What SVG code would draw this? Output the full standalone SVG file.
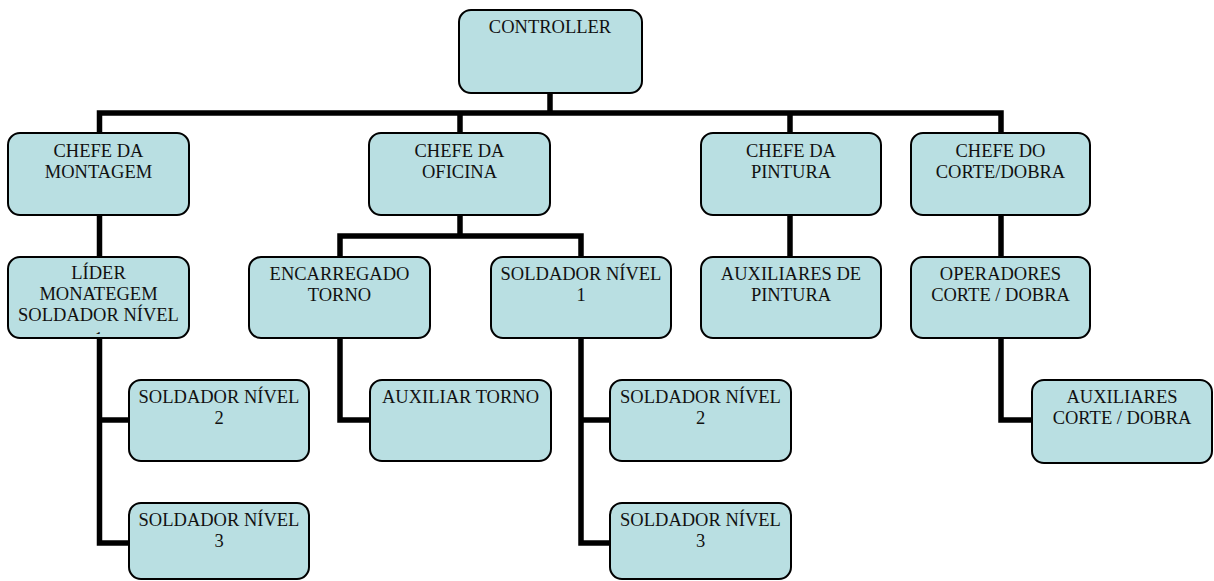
<svg xmlns="http://www.w3.org/2000/svg" width="1214" height="581" viewBox="0 0 1214 581">
  <style>
    .box { fill: #b9dfe2; stroke: #000; stroke-width: 2; }
    .lbl { font-family: 'Liberation Serif', 'DejaVu Serif', serif; font-size: 18.5px; fill: #111; text-anchor: middle; }
    .wire { fill: none; stroke: #000; stroke-width: 5.5; stroke-linejoin: miter; }
  </style>
  <defs>
    <clipPath id="clip-lider">
      <rect x="9" y="258" width="179" height="76"/>
    </clipPath>
  </defs>

  <!-- connectors -->
  <g id="connectors">
    <path class="wire" d="M550 93 V113"/>
    <path class="wire" d="M99.5 133 V113 H1001 V133"/>
    <path class="wire" d="M460 113 V133"/>
    <path class="wire" d="M790 113 V133"/>
    <!-- second level -->
    <path class="wire" d="M99.5 215 V257"/>
    <path class="wire" d="M460 215 V236"/>
    <path class="wire" d="M340 257 V236 H581 V257"/>
    <path class="wire" d="M790 215 V257"/>
    <path class="wire" d="M1001 215 V257"/>
    <!-- third level -->
    <path class="wire" d="M99.5 338 V543 H129"/>
    <path class="wire" d="M99.5 420 H129"/>
    <path class="wire" d="M340 338 V420 H370"/>
    <path class="wire" d="M581 338 V543 H610"/>
    <path class="wire" d="M581 420 H610"/>
    <path class="wire" d="M1001 338 V420 H1032"/>
  </g>

  <g id="nodes" font-family="Liberation Serif, DejaVu Serif, serif">
  <g id="controller">
    <rect class="box" x="459" y="10" width="183" height="83" rx="12"/>
    <text class="lbl" x="550" y="33">CONTROLLER</text>
  </g>

  <g id="chefe-montagem">
    <rect class="box" x="8" y="133" width="181" height="82" rx="12"/>
    <text class="lbl" x="98.5" y="157">CHEFE DA</text>
    <text class="lbl" x="98.5" y="178">MONTAGEM</text>
  </g>

  <g id="chefe-oficina">
    <rect class="box" x="369" y="133" width="181" height="82" rx="12"/>
    <text class="lbl" x="459.5" y="157">CHEFE DA</text>
    <text class="lbl" x="459.5" y="178">OFICINA</text>
  </g>

  <g id="chefe-pintura">
    <rect class="box" x="701" y="133" width="180" height="82" rx="12"/>
    <text class="lbl" x="791" y="157">CHEFE DA</text>
    <text class="lbl" x="791" y="178">PINTURA</text>
  </g>

  <g id="chefe-corte">
    <rect class="box" x="911" y="133" width="179" height="82" rx="12"/>
    <text class="lbl" x="1000.5" y="157">CHEFE DO</text>
    <text class="lbl" x="1000.5" y="178">CORTE/DOBRA</text>
  </g>

  <g id="lider-montagem">
    <rect class="box" x="8" y="257" width="181" height="81" rx="12"/>
    <g clip-path="url(#clip-lider)">
      <text class="lbl" x="98.5" y="279">LÍDER</text>
      <text class="lbl" x="98.5" y="300">MONATEGEM</text>
      <text class="lbl" x="98.5" y="321">SOLDADOR NÍVEL</text>
      <text class="lbl" x="98.5" y="345">1</text>
    </g>
  </g>

  <g id="encarregado-torno">
    <rect class="box" x="249" y="257" width="181" height="81" rx="12"/>
    <text class="lbl" x="339.5" y="280">ENCARREGADO</text>
    <text class="lbl" x="339.5" y="301">TORNO</text>
  </g>

  <g id="soldador-1">
    <rect class="box" x="491" y="257" width="180" height="81" rx="12"/>
    <text class="lbl" x="581" y="280">SOLDADOR NÍVEL</text>
    <text class="lbl" x="581" y="301">1</text>
  </g>

  <g id="auxiliares-pintura">
    <rect class="box" x="701" y="257" width="180" height="81" rx="12"/>
    <text class="lbl" x="791" y="280">AUXILIARES DE</text>
    <text class="lbl" x="791" y="301">PINTURA</text>
  </g>

  <g id="operadores-corte">
    <rect class="box" x="911" y="257" width="179" height="81" rx="12"/>
    <text class="lbl" x="1000.5" y="280">OPERADORES</text>
    <text class="lbl" x="1000.5" y="301">CORTE / DOBRA</text>
  </g>

  <g id="soldador-2-montagem">
    <rect class="box" x="129" y="380" width="180" height="81" rx="12"/>
    <text class="lbl" x="219" y="403">SOLDADOR NÍVEL</text>
    <text class="lbl" x="219" y="424">2</text>
  </g>

  <g id="soldador-3-montagem">
    <rect class="box" x="129" y="503" width="180" height="76" rx="12"/>
    <text class="lbl" x="219" y="526">SOLDADOR NÍVEL</text>
    <text class="lbl" x="219" y="547">3</text>
  </g>

  <g id="auxiliar-torno">
    <rect class="box" x="370" y="380" width="181" height="81" rx="12"/>
    <text class="lbl" x="460.5" y="403">AUXILIAR TORNO</text>
  </g>

  <g id="soldador-2-oficina">
    <rect class="box" x="610" y="380" width="181" height="81" rx="12"/>
    <text class="lbl" x="700.5" y="403">SOLDADOR NÍVEL</text>
    <text class="lbl" x="700.5" y="424">2</text>
  </g>

  <g id="soldador-3-oficina">
    <rect class="box" x="610" y="503" width="181" height="76" rx="12"/>
    <text class="lbl" x="700.5" y="526">SOLDADOR NÍVEL</text>
    <text class="lbl" x="700.5" y="547">3</text>
  </g>

  <g id="auxiliares-corte">
    <rect class="box" x="1032" y="380" width="180" height="83" rx="12"/>
    <text class="lbl" x="1122" y="403">AUXILIARES</text>
    <text class="lbl" x="1122" y="424">CORTE / DOBRA</text>
  </g>
  </g>
</svg>
